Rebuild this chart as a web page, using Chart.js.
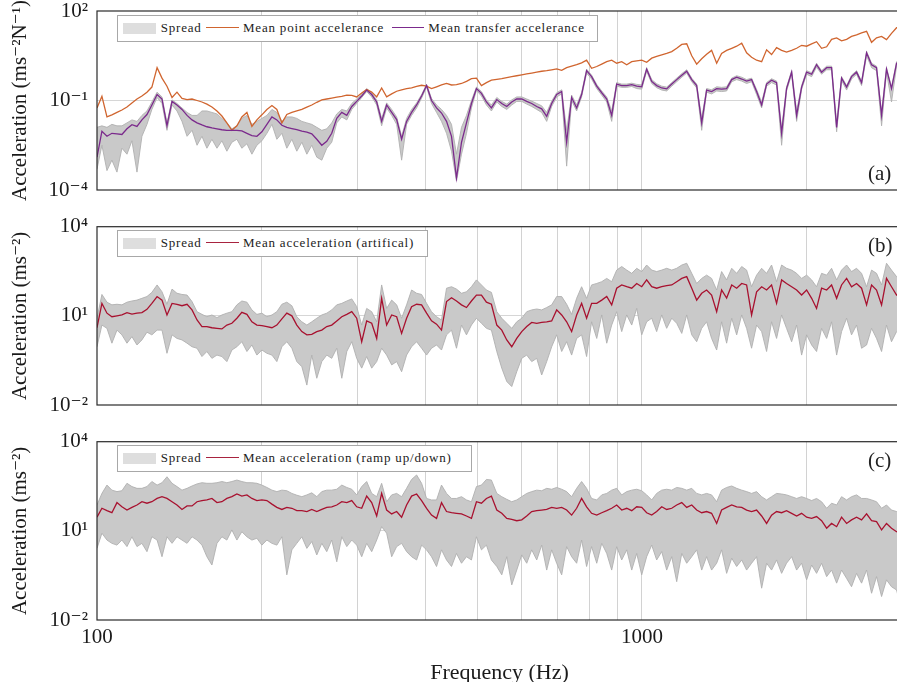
<!DOCTYPE html>
<html><head><meta charset="utf-8">
<script src="https://cdn.jsdelivr.net/npm/chart.js@4.4.1/dist/chart.umd.min.js"></script>
<style>
html,body{margin:0;padding:0;background:#fff;width:897px;height:682px;overflow:hidden;}
#wrap{position:relative;width:897px;height:682px;overflow:hidden;}
canvas{position:absolute;left:0;}
.box{position:absolute;border:1px solid #a8a8a8;background:#fff;box-sizing:border-box;z-index:2;}
.txt{position:absolute;white-space:nowrap;font-family:'Liberation Serif','DejaVu Serif',serif;font-size:13px;letter-spacing:0.8px;line-height:14px;color:#222;z-index:3;}
.sw{position:absolute;z-index:3;}
.plabel{position:absolute;font-family:'Liberation Serif','DejaVu Serif',serif;font-size:21px;line-height:24px;color:#222;z-index:3;}
</style></head>
<body><div id="wrap">
<canvas id="ca" width="902" height="205" style="top:0px"></canvas>
<canvas id="cb" width="902" height="215" style="top:205px"></canvas>
<canvas id="cc" width="902" height="257" style="top:425px"></canvas>

<div class="box" style="left:116.7px;top:15px;width:481px;height:27px"></div>
<div class="sw" style="left:122.7px;top:22.5px;width:33px;height:11px;background:#dedede"></div>
<div class="txt" style="left:160.7px;top:20.7px">Spread</div>
<div class="sw" style="left:206px;top:27px;width:33px;height:1.3px;background:#d0652f"></div>
<div class="txt" style="left:243px;top:20.7px">Mean point accelerance</div>
<div class="sw" style="left:391.7px;top:27px;width:32px;height:1.3px;background:#7b2a8c"></div>
<div class="txt" style="left:428.3px;top:20.7px">Mean transfer accelerance</div>

<div class="box" style="left:116.7px;top:230px;width:311px;height:27px"></div>
<div class="sw" style="left:122.7px;top:237.5px;width:33px;height:11px;background:#dedede"></div>
<div class="txt" style="left:160.7px;top:235.7px">Spread</div>
<div class="sw" style="left:206px;top:242px;width:33px;height:1.2px;background:#a8233f"></div>
<div class="txt" style="left:243px;top:235.7px">Mean acceleration (artifical)</div>

<div class="box" style="left:116.7px;top:445px;width:355px;height:27px"></div>
<div class="sw" style="left:122.7px;top:452.5px;width:33px;height:11px;background:#dedede"></div>
<div class="txt" style="left:160.7px;top:450.7px">Spread</div>
<div class="sw" style="left:206px;top:457px;width:33px;height:1.2px;background:#a8233f"></div>
<div class="txt" style="left:243px;top:450.7px">Mean acceleration (ramp up/down)</div>

<div class="plabel" style="left:868px;top:160.5px">(a)</div>
<div class="plabel" style="left:868px;top:233px">(b)</div>
<div class="plabel" style="left:868px;top:448px">(c)</div>
</div>
<script>
// ---- data (series values stored as log10) ----
const freqHz = [
100,102.1,104.3,106.5,108.8,111.1,113.5,115.9,118.4,120.9,
123.5,126.1,128.9,131.6,134.4,137.3,140.2,143.2,146.3,149.4,
152.6,155.8,159.1,162.5,166.0,169.5,173.1,176.8,180.6,184.4,
188.4,192.4,196.5,200.7,205.0,209.4,213.8,218.4,223.0,227.8,
232.6,237.6,242.7,247.8,253.1,258.5,264.0,269.6,275.4,281.3,
287.3,293.4,299.6,306.0,312.5,319.2,326.0,332.9,340.0,347.3,
354.7,362.2,369.9,377.8,385.9,394.1,402.5,411.0,419.8,428.7,
437.9,447.2,456.7,466.5,476.4,486.5,496.9,507.5,518.3,529.3,
541.5,553.0,564.8,576.8,589.1,601.7,614.5,627.6,641.0,654.6,
668.6,682.8,697.4,712.3,727.4,742.9,758.8,774.9,791.4,808.3,
826.0,843.6,861.6,879.9,898.7,917.9,937.6,957.6,978.0,998.9,
1020,1042,1064,1087,1110,1134,1158,1183,1208,1234,
1260,1287,1314,1342,1371,1400,1430,1461,1492,1524,
1556,1589,1623,1658,1693,1729,1766,1804,1842,1882,
1922,1963,2005,2048,2091,2136,2182,2228,2276,2324,
2374,2424,2476,2529,2583,2638,2694,2752,2810,2870,
2932,2994];

const pointMeanLog = [
-1.25,-0.86,-1.55,-1.48,-1.40,-1.32,-1.22,-1.08,-0.95,-0.85,
-0.72,-0.55,0.1,-0.25,-0.52,-0.9,-0.72,-0.93,-0.97,-0.95,
-1.0,-1.05,-1.12,-1.22,-1.35,-1.52,-1.75,-2.0,-1.85,-1.55,
-1.4,-1.87,-1.65,-1.48,-1.3,-1.17,-1.3,-1.75,-1.47,-1.4,
-1.35,-1.3,-1.22,-1.15,-1.06,-0.98,-0.95,-0.92,-0.89,-0.86,
-0.82,-0.83,-0.88,-0.75,-0.63,-0.72,-0.88,-0.58,-0.88,-0.78,
-0.69,-0.64,-0.6,-0.58,-0.53,-0.49,-0.52,-0.6,-0.54,-0.48,
-0.43,-0.48,-0.47,-0.43,-0.36,-0.27,-0.25,-0.5,-0.4,-0.32,
-0.29,-0.27,-0.23,-0.2,-0.17,-0.14,-0.11,-0.08,-0.05,-0.02,
0.0,0.03,0.06,0.01,0.1,0.15,0.2,0.26,0.35,0.08,
0.14,0.22,0.3,0.35,0.25,0.3,0.2,0.3,0.33,0.35,
0.28,0.42,0.48,0.53,0.58,0.64,0.75,0.88,0.9,0.5,
0.22,0.4,0.55,0.68,0.25,0.58,0.68,0.75,0.82,0.92,
0.6,0.45,0.35,0.3,0.7,0.54,0.77,0.68,0.62,0.68,
0.75,0.85,0.82,0.9,0.97,0.75,0.8,1.05,1.1,1.0,
1.05,1.15,1.2,1.27,1.32,0.95,1.1,1.15,1.04,1.25,
1.44,1.45];

const transferMeanLog = [
-2.9,-2.03,-2.2,-2.1,-2.12,-2.14,-1.95,-1.81,-1.87,-1.65,
-1.47,-1.15,-0.8,-0.95,-1.84,-1.03,-1.15,-1.3,-1.5,-1.65,
-1.75,-1.82,-1.88,-1.92,-1.95,-1.98,-2.0,-2.0,-2.0,-2.02,
-2.1,-2.18,-2.2,-2.05,-1.8,-1.55,-1.65,-1.83,-1.9,-1.94,
-1.98,-2.03,-2.06,-2.12,-2.3,-2.5,-2.37,-2.1,-1.6,-1.4,
-1.5,-1.2,-1.03,-0.85,-0.65,-0.8,-1.05,-1.7,-1.15,-1.4,
-1.64,-2.3,-1.7,-1.4,-1.15,-0.85,-0.5,-1.0,-1.25,-1.42,
-1.7,-2.2,-3.6,-2.4,-1.75,-1.1,-0.6,-0.76,-1.05,-1.25,
-0.97,-1.1,-1.2,-1.05,-0.95,-0.95,-1.03,-1.1,-1.2,-1.28,
-1.53,-1.1,-0.8,-0.7,-2.4,-0.9,-1.25,-0.8,0.0,-0.2,
-0.52,-0.74,-0.95,-1.5,-0.45,-0.5,-0.5,-0.47,-0.52,-0.54,
0.05,-0.36,-0.5,-0.58,-0.61,-0.45,-0.3,-0.15,-0.02,-0.3,
-0.5,-1.75,-0.65,-0.7,-0.6,-0.62,-0.6,-0.3,-0.22,-0.28,
-0.35,-0.3,-0.7,-1.15,-0.45,-0.32,-0.4,-2.1,-0.6,-0.05,
-1.5,-0.55,-0.05,-0.12,0.2,-0.05,0.1,0.1,-1.9,-0.25,
-0.55,-0.2,-0.05,-0.4,0.6,0.2,0.1,-1.5,0.05,-0.6,
0.25,0.3];

const transferUpperLog = [
-1.9,-1.85,-1.9,-1.8,-1.85,-1.85,-1.75,-1.65,-1.7,-1.5,
-1.35,-1.05,-0.72,-0.88,-1.75,-0.98,-1.1,-1.25,-1.4,-1.5,
-1.5,-1.35,-1.35,-1.4,-1.45,-1.6,-1.75,-1.95,-1.85,-1.6,
-1.5,-1.8,-1.7,-1.6,-1.5,-1.3,-1.4,-1.7,-1.55,-1.55,
-1.6,-1.7,-1.75,-1.8,-1.9,-2.0,-1.95,-1.75,-1.45,-1.3,
-1.35,-1.1,-0.95,-0.8,-0.6,-0.75,-0.98,-1.6,-1.08,-1.3,
-1.55,-2.2,-1.6,-1.3,-1.08,-0.8,-0.46,-0.93,-1.15,-1.3,
-1.5,-1.8,-2.8,-1.9,-1.5,-1.0,-0.55,-0.7,-0.98,-1.15,
-0.9,-1.03,-1.12,-0.98,-0.88,-0.88,-0.95,-1.02,-1.1,-1.18,
-1.4,-1.02,-0.74,-0.64,-2.0,-0.82,-1.15,-0.73,0.05,-0.15,
-0.46,-0.68,-0.88,-1.35,-0.4,-0.45,-0.45,-0.42,-0.46,-0.48,
0.1,-0.3,-0.44,-0.52,-0.55,-0.4,-0.25,-0.1,0.03,-0.25,
-0.45,-1.6,-0.6,-0.64,-0.54,-0.56,-0.54,-0.25,-0.17,-0.22,
-0.3,-0.25,-0.63,-1.05,-0.4,-0.27,-0.35,-1.95,-0.55,0.0,
-1.35,-0.5,0.0,-0.07,0.25,0.0,0.15,0.15,-1.75,-0.2,
-0.5,-0.15,0.0,-0.35,0.65,0.25,0.15,-1.4,0.1,-0.55,
0.3,0.35];

const transferLowerLog = [
-3.3,-2.5,-3.35,-3.0,-3.4,-2.6,-2.8,-2.35,-3.4,-2.2,
-1.8,-1.3,-0.9,-1.1,-2.0,-1.15,-1.35,-1.7,-2.2,-2.0,
-2.5,-2.2,-2.6,-2.3,-2.6,-2.35,-2.7,-2.4,-2.3,-2.6,
-2.45,-2.8,-2.5,-2.35,-2.1,-1.8,-2.3,-2.1,-2.6,-2.3,
-2.7,-2.4,-2.8,-2.5,-2.9,-3.0,-2.6,-2.4,-1.75,-1.55,
-1.65,-1.3,-1.1,-0.9,-0.7,-0.88,-1.15,-1.85,-1.25,-1.5,
-1.8,-3.0,-1.8,-1.5,-1.25,-0.92,-0.55,-1.1,-1.4,-1.7,
-2.1,-2.7,-3.7,-2.8,-2.1,-1.25,-0.66,-0.85,-1.15,-1.35,
-1.05,-1.2,-1.3,-1.15,-1.03,-1.03,-1.12,-1.2,-1.3,-1.4,
-1.7,-1.2,-0.88,-0.78,-3.2,-1.0,-1.35,-0.88,-0.08,-0.28,
-0.6,-0.82,-1.05,-1.7,-0.52,-0.56,-0.56,-0.53,-0.6,-0.62,
-0.02,-0.43,-0.57,-0.65,-0.68,-0.52,-0.37,-0.22,-0.08,-0.37,
-0.58,-2.0,-0.72,-0.78,-0.68,-0.7,-0.68,-0.37,-0.3,-0.35,
-0.43,-0.37,-0.8,-1.25,-0.52,-0.4,-0.48,-2.5,-0.68,-0.12,
-1.7,-0.63,-0.12,-0.2,0.12,-0.12,0.03,0.03,-2.05,-0.33,
-0.65,-0.28,-0.12,-0.5,0.5,0.1,0.0,-1.85,-0.05,-1.05,
0.15,0.2];

const artMeanLog = [
0.6,1.42,1.09,0.97,1.0,1.03,1.11,1.06,1.09,1.11,
1.22,1.42,1.65,1.53,1.03,1.42,1.39,1.34,1.39,1.2,
0.86,0.64,0.64,0.6,0.58,0.56,0.69,0.75,0.92,1.12,
1.05,0.8,0.69,0.67,0.64,0.6,0.69,0.9,1.09,1.0,
0.69,0.47,0.36,0.38,0.47,0.52,0.64,0.69,0.83,0.97,
1.05,1.14,0.92,0.13,0.83,0.75,0.24,1.59,0.69,1.03,
0.97,0.41,0.92,1.31,1.39,1.37,1.09,0.83,0.72,0.52,
1.48,1.61,1.5,1.37,1.28,1.5,1.7,1.7,1.46,1.39,
0.69,0.52,0.19,-0.04,0.24,0.47,0.64,0.78,0.75,0.78,
0.8,0.83,1.2,1.03,0.8,0.47,1.03,1.42,0.92,1.42,
1.42,1.53,1.65,1.37,1.93,2.04,1.98,1.93,2.09,1.98,
2.21,1.98,1.93,1.98,2.02,2.04,2.15,2.26,2.32,1.93,
1.53,1.76,1.87,1.7,1.14,1.87,1.6,2.04,1.93,2.09,
2.04,1.03,1.81,1.98,1.87,2.04,1.42,2.21,2.09,1.98,
1.87,1.7,1.87,1.59,1.25,1.93,1.87,2.04,1.59,2.04,
2.26,1.98,2.09,1.93,1.37,2.04,1.87,1.37,2.26,1.98,
1.7,1.81];

const artUpperLog = [
0.92,1.72,1.46,1.37,1.39,1.37,1.46,1.5,1.53,1.59,
1.65,1.79,2.04,1.81,1.39,1.9,1.76,1.72,1.7,1.48,
1.14,1.05,0.97,1.03,0.94,1.03,1.09,1.14,1.37,1.5,
1.46,1.2,1.05,1.09,0.97,1.03,1.14,1.39,1.46,1.34,
0.97,0.8,0.69,0.8,0.92,1.03,1.09,1.2,1.37,1.42,
1.5,1.57,1.31,0.69,1.25,1.14,0.8,2.04,1.25,1.53,
1.37,0.92,1.37,1.87,1.76,1.72,1.42,1.14,0.97,0.86,
1.93,1.98,1.9,1.76,1.81,1.98,2.21,2.04,1.87,1.79,
1.14,0.92,0.75,0.58,0.8,0.92,1.14,1.2,1.23,1.2,
1.28,1.37,1.65,1.65,1.39,1.05,1.59,1.98,1.59,2.04,
2.09,2.15,2.26,2.15,2.54,2.66,2.54,2.43,2.6,2.49,
2.71,2.54,2.49,2.54,2.6,2.54,2.6,2.71,2.77,2.43,
2.09,2.26,2.37,2.26,1.87,2.49,2.21,2.6,2.43,2.66,
2.54,1.98,2.37,2.6,2.43,2.71,2.15,2.71,2.6,2.54,
2.43,2.26,2.37,2.21,1.98,2.43,2.37,2.6,2.21,2.54,
2.71,2.49,2.6,2.43,1.98,2.54,2.43,2.04,2.77,2.54,
2.32,2.37];

const artLowerLog = [
-0.04,0.69,0.58,0.08,0.52,0.36,0.08,0.3,0.02,0.19,
0.45,0.36,0.52,0.52,-0.26,0.36,0.24,0.19,0.08,-0.04,
-0.09,-0.37,-0.2,-0.43,-0.32,-0.37,-0.54,-0.15,-0.04,0.13,
-0.2,0.02,-0.32,-0.15,-0.26,-0.32,-0.54,-0.04,0.13,-0.09,
-0.54,-0.71,-1.33,-0.32,-1.1,-0.54,-0.32,-0.43,-0.09,-1.1,
-0.2,0.13,-0.43,-0.76,-0.37,-0.76,-0.54,-0.09,-0.32,-0.65,
-0.54,-0.88,-0.32,-0.04,0.13,-0.09,-0.32,-0.09,0.02,-0.15,
0.36,0.52,-0.09,0.69,0.36,0.69,0.92,0.75,0.58,0.52,
-0.2,-0.76,-1.21,-1.38,-0.88,-0.43,-0.32,-0.54,-0.43,-0.99,
-0.54,-0.04,0.36,-0.2,0.13,-0.32,0.24,0.36,-0.37,0.8,
0.24,1.03,0.08,0.69,1.14,0.47,1.03,0.69,1.25,0.36,
0.8,0.92,0.47,1.03,0.58,0.92,0.75,0.41,1.03,0.36,
0.13,0.58,0.8,0.24,-0.15,0.8,0.08,0.92,0.36,1.03,
0.58,-0.09,0.69,0.47,-0.2,0.8,0.24,1.03,0.58,0.13,
0.69,-0.32,0.36,0.02,-0.2,0.58,0.24,0.8,-0.32,0.47,
0.92,0.36,0.69,-0.09,0.02,0.58,0.24,-0.2,0.69,0.13,
0.47,0.58];

const rampMeanLog = [
1.46,1.76,1.68,1.61,1.95,1.81,1.7,1.79,1.87,1.98,
1.93,1.98,2.09,2.15,2.09,1.98,1.87,1.72,1.84,1.84,
1.98,2.02,2.04,2.09,1.95,1.98,2.09,2.15,2.24,2.17,
2.21,2.09,2.02,2.04,2.02,1.9,1.79,1.72,1.79,1.76,
1.68,1.68,1.65,1.72,1.65,1.72,1.79,1.81,1.87,1.98,
1.95,2.02,1.81,1.76,2.17,1.95,1.5,2.26,1.7,1.57,
1.65,1.46,1.87,2.17,2.24,2.02,1.76,1.53,1.42,1.95,
1.65,1.61,1.59,1.57,1.5,1.42,1.98,1.93,2.09,2.17,
1.7,1.59,1.42,1.39,1.34,1.37,1.5,1.65,1.68,1.7,
1.72,1.79,1.76,1.79,1.7,1.53,1.76,2.09,1.81,1.59,
1.53,1.61,1.68,1.76,1.87,1.7,1.76,1.68,1.81,1.79,
1.61,1.53,1.65,1.81,1.72,1.76,1.87,1.95,1.79,1.87,
1.7,1.61,1.65,1.59,1.25,1.7,1.79,1.87,1.81,1.79,
1.7,1.65,1.7,1.5,1.25,1.53,1.65,1.61,1.68,1.59,
1.5,1.59,1.46,1.42,1.48,1.34,1.09,1.25,1.14,1.46,
1.25,1.37,1.46,1.37,1.57,1.34,1.31,1.03,1.25,1.09,
0.97,0.92];

const rampUpperLog = [
1.87,2.26,2.54,2.37,2.32,2.35,2.6,2.49,2.43,2.43,
2.49,2.66,2.54,2.62,2.82,2.6,2.49,2.37,2.43,2.51,
2.58,2.62,2.6,2.6,2.62,2.66,2.62,2.66,2.71,2.66,
2.62,2.62,2.6,2.54,2.46,2.37,2.32,2.37,2.35,2.26,
2.2,2.15,2.21,2.28,2.15,2.32,2.37,2.37,2.4,2.54,
2.46,2.4,2.21,2.49,2.66,2.26,2.15,2.6,1.98,2.21,
2.26,2.15,2.43,2.73,2.88,2.6,2.09,2.04,2.04,2.54,
2.26,2.09,2.09,2.15,2.04,1.98,2.49,2.54,2.73,2.71,
2.26,2.15,2.06,1.98,2.04,2.15,2.26,2.32,2.37,2.35,
2.43,2.4,2.46,2.4,2.32,2.15,2.43,2.66,2.43,2.09,
2.04,2.21,2.26,2.37,2.43,2.21,2.32,2.37,2.4,2.35,
2.21,2.04,2.26,2.37,2.4,2.37,2.46,2.43,2.37,2.43,
2.26,2.21,2.26,2.21,1.98,2.37,2.46,2.51,2.43,2.37,
2.32,2.26,2.32,2.15,2.04,2.15,2.26,2.24,2.21,2.15,
2.09,2.15,2.09,2.02,2.09,1.98,1.76,1.93,1.87,2.15,
2.04,2.15,2.21,2.09,2.09,2.04,1.98,1.76,1.87,1.7,
1.65,1.59];

const rampLowerLog = [
0.41,0.92,0.69,0.58,0.52,0.69,0.47,0.8,0.47,0.58,
0.3,0.8,0.69,0.13,0.8,0.58,0.8,0.69,0.58,0.8,
0.69,0.52,0.13,-0.15,0.58,0.8,0.69,1.03,0.69,0.97,
0.8,0.69,0.75,0.52,0.69,0.58,0.52,0.8,-0.48,0.36,
0.58,0.8,0.41,0.64,0.19,0.58,0.3,0.69,-0.04,0.8,
0.47,0.69,0.52,0.13,0.58,0.3,0.69,1.14,0.92,0.13,
0.47,0.58,0.3,0.13,0.02,0.52,0.36,0.13,-0.2,0.36,
0.02,-0.2,0.24,-0.09,0.13,0.02,0.8,0.36,0.52,0.02,
-0.2,-0.48,0.13,-0.82,-0.32,0.19,-0.09,0.36,0.02,0.52,
-0.32,0.36,-0.09,-0.48,0.47,0.13,-0.09,0.69,-0.2,0.47,
-0.09,0.58,0.24,-0.32,0.47,0.02,0.36,-0.32,0.24,-0.48,
0.13,0.52,0.02,0.3,-0.32,0.13,-0.71,0.24,-0.09,0.13,
0.36,-0.32,0.13,-0.32,-0.09,0.36,-0.43,0.08,-0.2,0.02,
-0.32,-0.09,0.13,-0.93,-0.09,-0.32,0.02,-0.43,-0.09,0.13,
-0.32,-0.09,-0.65,-0.15,-0.43,-0.09,-0.54,-0.32,-0.76,-0.32,
-0.6,-0.88,-0.43,-0.76,-0.32,-1.1,-0.54,-1.21,-0.65,-0.88,
-0.99,-1.66];

const xTickValues = [100,200,300,400,500,600,700,800,900,1000,2000,3000];
const xTickLabels = ['100','','','','','','','','','1000','',''];
const yTicksA = [1e-4, 1e-1, 1e2];
const yTickLabelsA = ['10\u207B\u2074', '10\u207B\u00B9', '10\u00B2'];
const yTicksBC = [1e-2, 1e1, 1e4];
const yTickLabelsBC = ['10\u207B\u00B2', '10\u00B9', '10\u2074'];

// ---- rendering ----
const FONT = "'Liberation Serif','DejaVu Serif',serif";
const pts = (logs) => freqHz.map((f, i) => ({ x: f, y: Math.pow(10, logs[i]) }));

const framePlugin = {
  id: 'frame',
  afterDatasetsDraw(chart) {
    const { ctx, chartArea: a } = chart;
    ctx.save();
    ctx.strokeStyle = '#2a2a2a';
    ctx.lineWidth = 1.2;
    ctx.strokeRect(a.left, a.top, a.right - a.left, a.bottom - a.top);
    ctx.restore();
  }
};

function spreadSets(upper, lower) {
  return [
    { data: pts(upper), borderColor: '#b0b0b0', borderWidth: 0.9, pointRadius: 0, fill: false, order: 5 },
    { data: pts(lower), borderColor: '#b0b0b0', borderWidth: 0.9, pointRadius: 0, fill: '-1', backgroundColor: '#c9c9c9', order: 6 }
  ];
}
function lineSet(logs, color, order) {
  return { data: pts(logs), borderColor: color, borderWidth: 1.3, pointRadius: 0, fill: false, order: order };
}

function makeChart(id, datasets, o) {
  return new Chart(document.getElementById(id), {
    type: 'line',
    data: { datasets },
    plugins: [framePlugin],
    options: {
      responsive: false, animation: false, devicePixelRatio: 1,
      layout: { padding: { top: o.padTop, left: 0, right: 0, bottom: 0 } },
      plugins: { legend: { display: false }, tooltip: { enabled: false } },
      elements: { line: { tension: 0 } },
      scales: {
        x: {
          type: 'logarithmic', min: 100, max: 3000,
          afterBuildTicks: s => { s.ticks = xTickValues.map(v => ({ value: v })); },
          afterFit: s => { s.height = o.xHeight; s.paddingLeft = 0; s.paddingRight = 0; },
          border: { display: false },
          grid: { drawTicks: false, lineWidth: 1,
                  color: c => (c.tick && (c.tick.value === 100 || c.tick.value === 3000)) ? 'rgba(0,0,0,0)' : '#d2d2d2' },
          ticks: { display: o.showX, autoSkip: false, maxRotation: 0, padding: 7, color: '#1a1a1a',
                   font: { family: FONT, size: 21, lineHeight: 1 },
                   callback: (v, i) => xTickLabels[i] },
          title: { display: o.showX, text: 'Frequency (Hz)', color: '#1a1a1a',
                   font: { family: FONT, size: 22, lineHeight: 1 }, padding: { top: 0, bottom: -2 } }
        },
        y: {
          type: 'logarithmic', min: o.yMin, max: o.yMax,
          afterBuildTicks: s => { s.ticks = o.yTicks.map(v => ({ value: v })); },
          afterFit: s => { s.width = 97; s.paddingTop = 0; s.paddingBottom = 0; },
          border: { display: false },
          grid: { drawTicks: false, lineWidth: 1,
                  color: c => (c.index === 1) ? '#d6d6d6' : 'rgba(0,0,0,0)' },
          ticks: { padding: 9, color: '#1a1a1a', font: { family: FONT, size: 21, lineHeight: 1 },
                   callback: (v, i) => o.yLabels[i] },
          title: { display: true, text: o.yTitle, color: '#1a1a1a',
                   font: { family: FONT, size: 21, lineHeight: 1.2 }, padding: { top: 8, bottom: 0 } }
        }
      }
    }
  });
}

makeChart('ca', [
  ...spreadSets(transferUpperLog, transferLowerLog),
  lineSet(transferMeanLog, '#7b2a8c', 0),
  lineSet(pointMeanLog, '#d0652f', 1)
], { padTop: 11, xHeight: 15, showX: false, yMin: 1e-4, yMax: 1e2, yTicks: yTicksA, yLabels: yTickLabelsA,
     yTitle: 'Acceleration (ms\u207B\u00B2N\u207B\u00B9)' });

makeChart('cb', [
  ...spreadSets(artUpperLog, artLowerLog),
  lineSet(artMeanLog, '#a8112f', 0)
], { padTop: 21.7, xHeight: 15, showX: false, yMin: 1e-2, yMax: 1e4, yTicks: yTicksBC, yLabels: yTickLabelsBC,
     yTitle: 'Acceleration (ms\u207B\u00B2)' });

makeChart('cc', [
  ...spreadSets(rampUpperLog, rampLowerLog),
  lineSet(rampMeanLog, '#a8112f', 0)
], { padTop: 16.7, xHeight: 62, showX: true, yMin: 1e-2, yMax: 1e4, yTicks: yTicksBC, yLabels: yTickLabelsBC,
     yTitle: 'Acceleration (ms\u207B\u00B2)' });
</script>
</body></html>
